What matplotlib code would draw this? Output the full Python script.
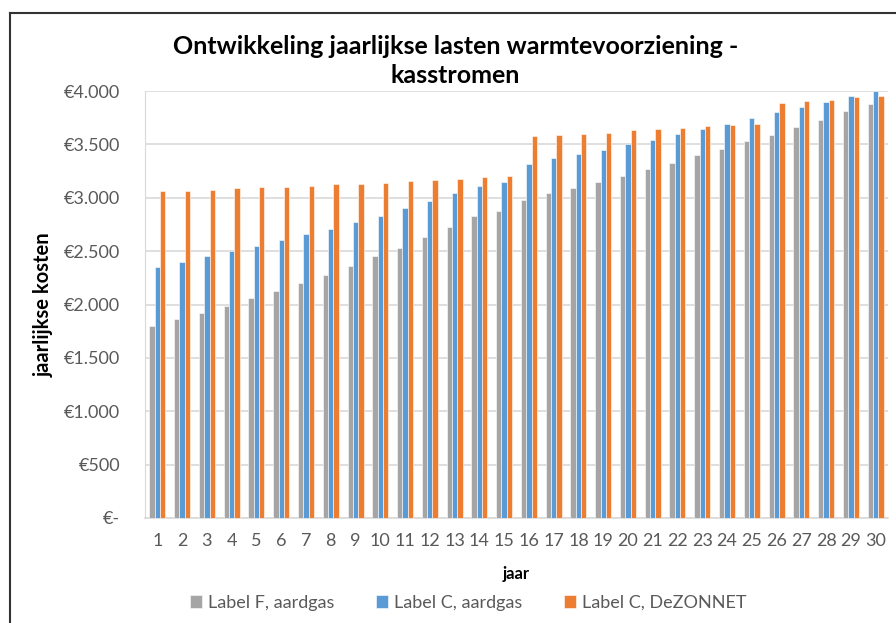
import numpy as np
import matplotlib
matplotlib.use("Agg")
import matplotlib.pyplot as plt
from matplotlib.lines import Line2D

plt.rcParams['font.family'] = ['Lato', 'DejaVu Sans']

years = list(range(1, 31))

label_f_aardgas = [1800, 1860, 1920, 1990, 2060, 2130, 2200, 2280, 2360, 2450,
                   2530, 2630, 2730, 2830, 2880, 2980, 3040, 3090, 3150, 3200,
                   3270, 3330, 3400, 3460, 3530, 3590, 3660, 3730, 3810, 3880]
label_c_aardgas = [2350, 2400, 2450, 2500, 2550, 2600, 2660, 2710, 2770, 2830,
                   2900, 2970, 3040, 3110, 3150, 3320, 3370, 3410, 3450, 3500,
                   3540, 3600, 3640, 3690, 3750, 3800, 3850, 3900, 3950, 4000]
label_c_dezonnet = [3060, 3060, 3070, 3090, 3100, 3100, 3110, 3130, 3130, 3140,
                    3160, 3170, 3180, 3190, 3200, 3580, 3590, 3600, 3610, 3630,
                    3640, 3650, 3670, 3680, 3690, 3890, 3910, 3920, 3940, 3950]

series_names = ["Label F, aardgas", "Label C, aardgas", "Label C, DeZONNET"]
colors = ["#A5A5A5", "#5B9BD5", "#ED7D31"]

y_ticks = [0, 500, 1000, 1500, 2000, 2500, 3000, 3500, 4000]
y_tick_labels = ["€-", "€500", "€1.000", "€1.500", "€2.000",
                 "€2.500", "€3.000", "€3.500", "€4.000"]

fig = plt.figure(figsize=(8.96, 6.23), dpi=100)
ax = fig.add_axes([145 / 896, 105 / 623, 743 / 896, 427 / 623])

x = np.arange(len(years))
width = 0.215
for i, (vals, name, c) in enumerate(zip([label_f_aardgas, label_c_aardgas, label_c_dezonnet],
                                        series_names, colors)):
    ax.bar(x + (i - 1) * width, vals, width, color=c, label=name,
           edgecolor="white", linewidth=0.4, zorder=3)

ax.set_xlim(-0.5, len(years) - 0.5)
ax.set_ylim(0, 4000)
ax.set_yticks(y_ticks)
ax.set_yticklabels(y_tick_labels)
ax.set_xticks(x)
ax.set_xticklabels([str(y) for y in years])
ax.tick_params(axis='both', length=0, colors="#595959", labelsize=13)
ax.tick_params(axis='y', pad=18)
ax.tick_params(axis='x', pad=11)

ax.grid(axis='y', color="#D9D9D9", linewidth=1.2, zorder=0)
for side in ["top", "right"]:
    ax.spines[side].set_visible(False)
ax.spines["left"].set_color("#D9D9D9")
ax.spines["bottom"].set_color("#D9D9D9")
ax.spines["bottom"].set_linewidth(1.2)

ax.set_xlabel("jaar", fontweight="bold", fontsize=12, labelpad=12)
ax.set_ylabel("jaarlijkse kosten", fontweight="bold", fontsize=14.5, labelpad=7)

fig.text(0.508, 0.902, "Ontwikkeling jaarlijkse lasten warmtevoorziening -\nkasstromen",
         ha="center", va="center", fontsize=18, fontweight="bold",
         linespacing=1.3)

ax.legend(loc="center", bbox_to_anchor=(468 / 896, 20 / 623),
          bbox_transform=fig.transFigure, ncol=3, frameon=False,
          fontsize=13, handlelength=0.7, handleheight=0.7,
          handletextpad=0.3, columnspacing=2.3, labelcolor="#595959")

# outer chart frame
fig.add_artist(Line2D([9.5 / 896, 9.5 / 896], [0, 1 - 13 / 623],
                      transform=fig.transFigure, color="#333333", linewidth=1.5))
fig.add_artist(Line2D([9.5 / 896, 1], [1 - 13 / 623, 1 - 13 / 623],
                      transform=fig.transFigure, color="#333333", linewidth=1.5))

fig.savefig("out.png", dpi=100)
